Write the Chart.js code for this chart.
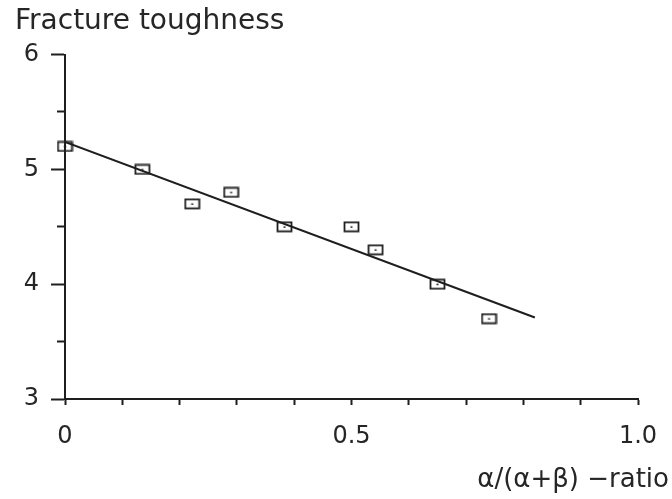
<!DOCTYPE html>
<html>
<head>
<meta charset="utf-8">
<script src="https://cdn.jsdelivr.net/npm/chart.js@4/dist/chart.umd.min.js"></script>
<style>
  html, body { margin: 0; padding: 0; background: #ffffff; }
  #wrap { width: 672px; height: 499px; }
</style>
</head>
<body>
<div id="wrap"><canvas id="c" width="672" height="499"></canvas></div>
<script>
// ---- data ----
const ratioValues = [0, 0.135, 0.222, 0.29, 0.383, 0.5, 0.542, 0.65, 0.74];
const toughnessValues = [5.2, 5.0, 4.7, 4.8, 4.5, 4.5, 4.3, 4.0, 3.7];
const fitLineX = [0, 0.82];
const fitLineY = [5.24, 3.71];
const xTickLabels = { '0': '0', '0.5': '0.5', '1': '1.0' };
const yTickLabels = { '3': '3', '4': '4', '5': '5', '6': '6' };
const yTitle = 'Fracture toughness';
const xTitle = 'α/(α+β) −ratio';

const ink = '#1e1e1e';
const textInk = '#262626';
const fontFamily = '"DejaVu Sans", "Liberation Sans", sans-serif';

// open rectangle marker with a small centre dot
const marker = document.createElement('canvas');
marker.width = 17; marker.height = 12;
(function () {
  const g = marker.getContext('2d');
  g.strokeStyle = ink; g.lineWidth = 1.8;
  g.strokeRect(1.5, 1.5, 14, 9);
  g.fillStyle = ink;
  g.fillRect(7.5, 5.5, 2, 1.5);
})();

const points = ratioValues.map((x, i) => ({ x: x, y: toughnessValues[i] }));
const fitPoints = fitLineX.map((x, i) => ({ x: x, y: fitLineY[i] }));

const xTitlePlugin = {
  id: 'xTitlePlugin',
  afterDraw(chart) {
    const ctx = chart.ctx;
    ctx.save();
    ctx.font = '26px ' + fontFamily;
    ctx.fillStyle = textInk;
    ctx.textAlign = 'right';
    ctx.textBaseline = 'alphabetic';
    ctx.fillText(xTitle, chart.width - 3, chart.height - 12);
    ctx.restore();
  }
};

new Chart(document.getElementById('c'), {
  type: 'scatter',
  data: {
    datasets: [
      {
        label: 'fit',
        data: fitPoints,
        showLine: true,
        borderColor: ink,
        borderWidth: 2,
        pointRadius: 0,
        fill: false
      },
      {
        label: 'measured',
        data: points,
        pointStyle: marker,
        pointRadius: 6,
        clip: false
      }
    ]
  },
  options: {
    responsive: false,
    animation: false,
    layout: { padding: { left: 15, right: 34, top: 0, bottom: 0 } },
    plugins: {
      legend: { display: false },
      tooltip: { enabled: false },
      title: {
        display: true,
        text: yTitle,
        align: 'start',
        color: textInk,
        font: { family: fontFamily, size: 28, weight: 'normal' },
        padding: { top: 5, bottom: 16 }
      }
    },
    scales: {
      x: {
        type: 'linear',
        min: 0, max: 1,
        afterFit(scale) { scale.height = 100; scale.paddingRight = 0; scale.paddingLeft = 0; },
        border: { display: true, color: ink, width: 2 },
        grid: { drawOnChartArea: false, drawTicks: true, tickLength: 6, tickColor: ink, tickWidth: 2 },
        ticks: {
          stepSize: 0.1,
          autoSkip: false,
          maxRotation: 0,
          padding: 17,
          color: textInk,
          font: { family: fontFamily, size: 24 },
          callback(value) {
            const k = String(Math.round(value * 10) / 10);
            return xTickLabels[k] !== undefined ? xTickLabels[k] : '';
          }
        }
      },
      y: {
        type: 'linear',
        min: 3, max: 6,
        afterFit(scale) { scale.width = 50; },
        border: { display: true, color: ink, width: 2 },
        grid: {
          drawOnChartArea: false, drawTicks: true, tickLength: 14, tickColor: ink, tickWidth: 2,
          tickBorderDash(ctx) {
            const v = ctx.tick ? ctx.tick.value : 0;
            return Math.abs(v - Math.round(v)) > 1e-6 ? [0, 6, 20] : [];
          }
        },
        ticks: {
          stepSize: 0.5,
          autoSkip: false,
          padding: 12,
          color: textInk,
          font: { family: fontFamily, size: 24 },
          callback(value) {
            const k = String(Math.round(value * 10) / 10);
            return yTickLabels[k] !== undefined ? yTickLabels[k] : '';
          }
        }
      }
    }
  },
  plugins: [xTitlePlugin]
});
</script>
</body>
</html>
